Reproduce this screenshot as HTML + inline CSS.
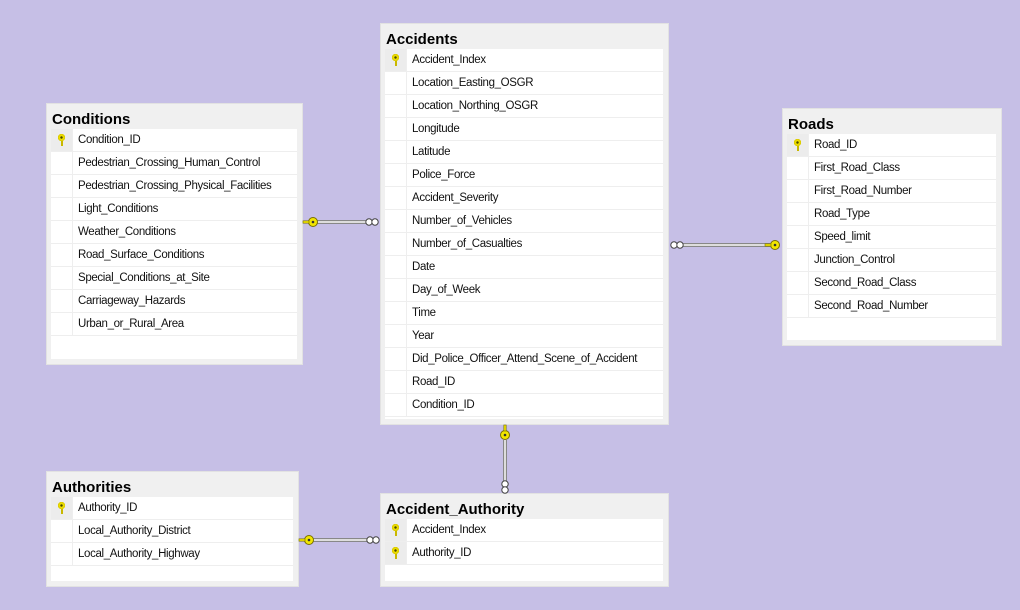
<!DOCTYPE html>
<html><head><meta charset="utf-8"><style>
body{margin:0;width:1020px;height:610px;background:#c6bfe6;position:relative;overflow:hidden;font-family:"Liberation Sans",sans-serif;}
.t{position:absolute;background:#f0f0f0;border:1px solid #e2e2e2;box-sizing:border-box;}
.t h{position:absolute;left:5px;top:7px;font-weight:bold;font-size:15px;color:#000;}
.w{position:absolute;left:4px;right:5px;bottom:5px;background:#fff;}
.r{height:22px;border-bottom:1px solid #eeeeee;position:relative;font-size:11.5px;line-height:23px;color:#111;letter-spacing:-0.35px}
.r span{position:absolute;left:27px;}
.g{position:absolute;left:0;top:0;bottom:0;width:21px;border-right:1px solid #eee;}
.k{background:#ececec;}
.k::after{content:"";position:absolute;left:7px;top:5px;width:7px;height:12px;background:radial-gradient(circle at 3.5px 3.5px,#4a4a00 1px,#f5e600 1.5px,#d8c800 3.5px,transparent 3.8px),linear-gradient(#c8b800,#c8b800) 2.5px 6px/2px 6px no-repeat;}
</style></head><body>

<div class="t" style="left:46px;top:103px;width:257px;height:262px"><h>Conditions</h>
<div class="w" style="top:25px">
<div class="r"><div class="g k"></div><span>Condition_ID</span></div>
<div class="r"><div class="g"></div><span>Pedestrian_Crossing_Human_Control</span></div>
<div class="r"><div class="g"></div><span>Pedestrian_Crossing_Physical_Facilities</span></div>
<div class="r"><div class="g"></div><span>Light_Conditions</span></div>
<div class="r"><div class="g"></div><span>Weather_Conditions</span></div>
<div class="r"><div class="g"></div><span>Road_Surface_Conditions</span></div>
<div class="r"><div class="g"></div><span>Special_Conditions_at_Site</span></div>
<div class="r"><div class="g"></div><span>Carriageway_Hazards</span></div>
<div class="r"><div class="g"></div><span>Urban_or_Rural_Area</span></div>
</div></div>

<div class="t" style="left:380px;top:23px;width:289px;height:402px"><h>Accidents</h>
<div class="w" style="top:25px">
<div class="r"><div class="g k"></div><span>Accident_Index</span></div>
<div class="r"><div class="g"></div><span>Location_Easting_OSGR</span></div>
<div class="r"><div class="g"></div><span>Location_Northing_OSGR</span></div>
<div class="r"><div class="g"></div><span>Longitude</span></div>
<div class="r"><div class="g"></div><span>Latitude</span></div>
<div class="r"><div class="g"></div><span>Police_Force</span></div>
<div class="r"><div class="g"></div><span>Accident_Severity</span></div>
<div class="r"><div class="g"></div><span>Number_of_Vehicles</span></div>
<div class="r"><div class="g"></div><span>Number_of_Casualties</span></div>
<div class="r"><div class="g"></div><span>Date</span></div>
<div class="r"><div class="g"></div><span>Day_of_Week</span></div>
<div class="r"><div class="g"></div><span>Time</span></div>
<div class="r"><div class="g"></div><span>Year</span></div>
<div class="r"><div class="g"></div><span>Did_Police_Officer_Attend_Scene_of_Accident</span></div>
<div class="r"><div class="g"></div><span>Road_ID</span></div>
<div class="r"><div class="g"></div><span>Condition_ID</span></div>
</div></div>

<div class="t" style="left:782px;top:108px;width:220px;height:238px"><h>Roads</h>
<div class="w" style="top:25px">
<div class="r"><div class="g k"></div><span>Road_ID</span></div>
<div class="r"><div class="g"></div><span>First_Road_Class</span></div>
<div class="r"><div class="g"></div><span>First_Road_Number</span></div>
<div class="r"><div class="g"></div><span>Road_Type</span></div>
<div class="r"><div class="g"></div><span>Speed_limit</span></div>
<div class="r"><div class="g"></div><span>Junction_Control</span></div>
<div class="r"><div class="g"></div><span>Second_Road_Class</span></div>
<div class="r"><div class="g"></div><span>Second_Road_Number</span></div>
</div></div>

<div class="t" style="left:46px;top:471px;width:253px;height:116px"><h>Authorities</h>
<div class="w" style="top:25px">
<div class="r"><div class="g k"></div><span>Authority_ID</span></div>
<div class="r"><div class="g"></div><span>Local_Authority_District</span></div>
<div class="r"><div class="g"></div><span>Local_Authority_Highway</span></div>
</div></div>

<div class="t" style="left:380px;top:493px;width:289px;height:94px"><h>Accident_Authority</h>
<div class="w" style="top:25px">
<div class="r"><div class="g k"></div><span>Accident_Index</span></div>
<div class="r"><div class="g k"></div><span>Authority_ID</span></div>
</div></div>

<svg width="1020" height="610" style="position:absolute;left:0;top:0">
<defs>
<g id="key"><circle cx="0" cy="0" r="4.5" fill="#f2e600" stroke="#7a7000" stroke-width="1"/><circle cx="0" cy="0" r="1.3" fill="#333"/><rect x="-10" y="-1.2" width="6" height="2.4" fill="#e8dc00" stroke="#7a7000" stroke-width="0.6"/></g>
<g id="inf"><circle cx="-3" cy="0" r="3.2" fill="#fff" stroke="#444" stroke-width="1"/><circle cx="3" cy="0" r="3.2" fill="#fff" stroke="#444" stroke-width="1"/></g>
</defs>
<g stroke-linecap="butt">
<line x1="316" y1="222" x2="367" y2="222" stroke="#888" stroke-width="4"/><line x1="316" y1="222" x2="367" y2="222" stroke="#ddd" stroke-width="2"/>
<line x1="683" y1="245" x2="770" y2="245" stroke="#888" stroke-width="4"/><line x1="683" y1="245" x2="770" y2="245" stroke="#ddd" stroke-width="2"/>
<line x1="505" y1="440" x2="505" y2="482" stroke="#888" stroke-width="4"/><line x1="505" y1="440" x2="505" y2="482" stroke="#ddd" stroke-width="2"/>
<line x1="312" y1="540" x2="367" y2="540" stroke="#888" stroke-width="4"/><line x1="312" y1="540" x2="367" y2="540" stroke="#ddd" stroke-width="2"/>
</g>
<use href="#key" transform="translate(313,222)"/>
<use href="#inf" transform="translate(372,222)"/>
<use href="#inf" transform="translate(677,245)"/>
<use href="#key" transform="translate(775,245)"/>
<use href="#key" transform="translate(505,435) rotate(90)"/>
<use href="#inf" transform="translate(505,487) rotate(90)"/>
<use href="#key" transform="translate(309,540)"/>
<use href="#inf" transform="translate(373,540)"/>
</svg>
</body></html>
